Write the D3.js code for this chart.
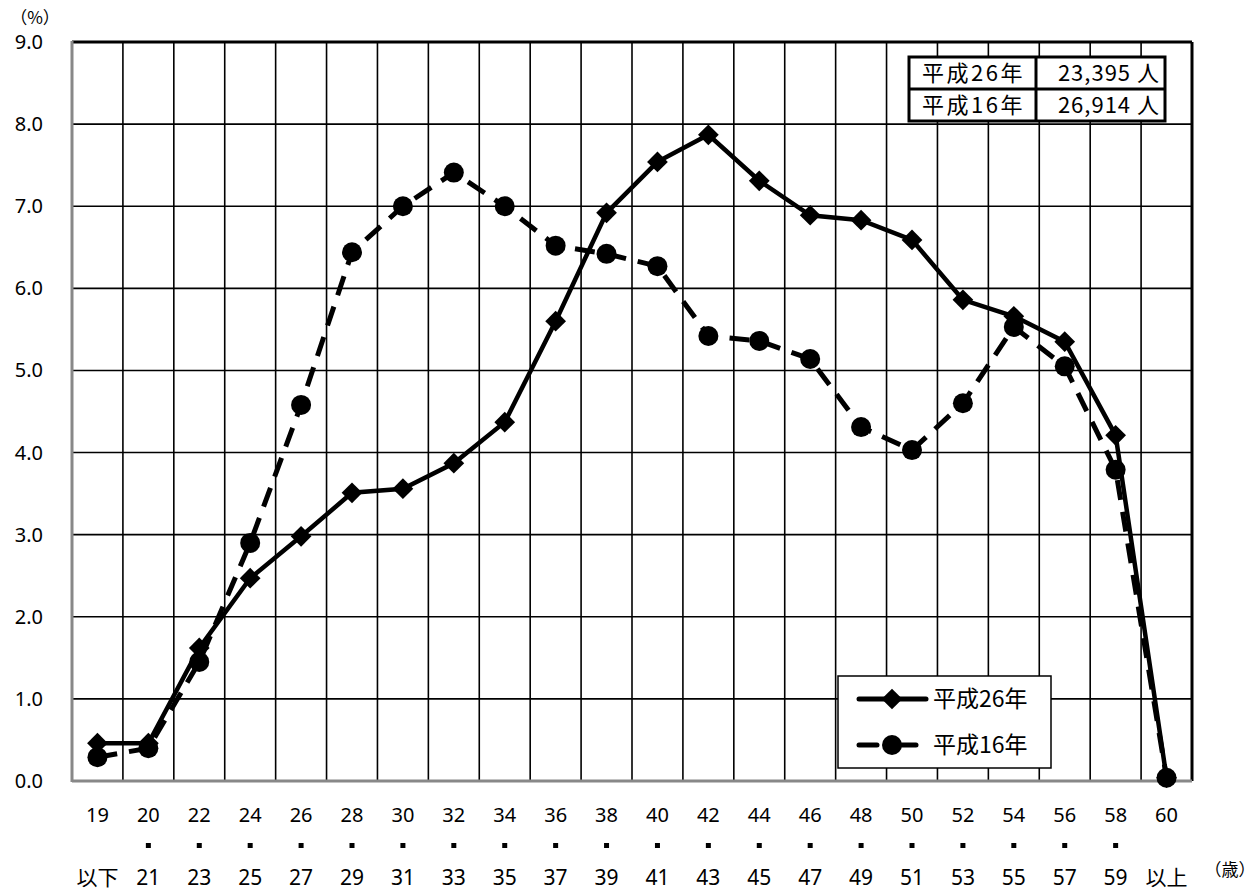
<!DOCTYPE html>
<html><head><meta charset="utf-8">
<script src="https://cdn.jsdelivr.net/npm/d3@7"></script>
<style>body{margin:0;background:#fff;} svg{display:block;}</style>
</head><body><svg id="c" width="1257" height="891"></svg>
<script>
const catTop = ["19","20","22","24","26","28","30","32","34","36","38","40","42","44","46","48","50","52","54","56","58","60"];
const catBottom = ["以下","21","23","25","27","29","31","33","35","37","39","41","43","45","47","49","51","53","55","57","59","以上"];
const h26 = [0.46,0.46,1.62,2.47,2.98,3.51,3.56,3.87,4.37,5.60,6.92,7.54,7.87,7.31,6.89,6.83,6.59,5.86,5.66,5.35,4.21,0.04];
const h16 = [0.29,0.40,1.45,2.90,4.58,6.44,7.00,7.41,7.00,6.52,6.42,6.27,5.42,5.36,5.14,4.31,4.03,4.60,5.53,5.05,3.79,0.04];
const yTicks = [0,1,2,3,4,5,6,7,8,9];
const seriesNames = ["平成26年","平成16年"];
const totals = ["23,395 人","26,914 人"];

const svg = d3.select("#c");
const L=72,R=1192,T=42,B=781;
const x = d3.scaleBand().domain(catTop).range([L,R]);
const y = d3.scaleLinear().domain([0,9]).range([B,T]);
const font = "'Noto Sans','DejaVu Sans',sans-serif";
const cjk = "'Noto Sans CJK JP','Noto Sans',sans-serif";

// grid
const g = svg.append("g");
g.selectAll(".hg").data(yTicks.slice(1,-1)).join("line")
 .attr("x1",L).attr("x2",R).attr("y1",d=>y(d)).attr("y2",d=>y(d))
 .attr("stroke","#000").attr("stroke-width",1.6);
g.selectAll(".vg").data(catTop.slice(1)).join("line")
 .attr("x1",d=>x(d)).attr("x2",d=>x(d)).attr("y1",T).attr("y2",B)
 .attr("stroke","#000").attr("stroke-width",1.6);
// borders
g.append("line").attr("x1",L).attr("x2",R).attr("y1",T).attr("y2",T).attr("stroke","#000").attr("stroke-width",3);
g.append("line").attr("x1",R).attr("x2",R).attr("y1",T).attr("y2",B).attr("stroke","#000").attr("stroke-width",3);
g.append("line").attr("x1",L).attr("x2",L).attr("y1",T-1).attr("y2",B+1).attr("stroke","#888").attr("stroke-width",3);
g.append("line").attr("x1",L).attr("x2",R).attr("y1",B).attr("y2",B).attr("stroke","#888").attr("stroke-width",3);

// y axis labels
svg.append("g").selectAll("text").data(yTicks).join("text")
 .attr("x",43).attr("y",d=>y(d)+7).attr("text-anchor","end")
 .attr("font-family",font).attr("font-size",20).text(d=>d.toFixed(1));
svg.append("text").attr("x",35).attr("y",24).attr("text-anchor","middle").attr("font-family",cjk).attr("font-size",17).text("（%）");

// x labels
const cx = d=>x(d)+x.bandwidth()/2;
svg.append("g").selectAll("text").data(catTop).join("text")
 .attr("x",d=>cx(d)).attr("y",822).attr("text-anchor","middle")
 .attr("font-family",font).attr("font-size",20).text(d=>d);
svg.append("g").selectAll("rect").data(catTop.slice(1,-1)).join("rect")
 .attr("x",d=>cx(d)-2.5).attr("y",843).attr("width",5).attr("height",5).attr("fill","#000");
svg.append("g").selectAll("text").data(catBottom).join("text")
 .attr("x",(d,i)=>cx(catTop[i])).attr("y",885).attr("text-anchor","middle")
 .attr("font-family",(d,i)=>(i===0||i===catBottom.length-1)?cjk:font).attr("font-size",21).text(d=>d);
svg.append("text").attr("x",1230).attr("y",876).attr("text-anchor","middle").attr("font-family",cjk).attr("font-size",17).text("（歳）");

// lines
const line = d3.line().x((d,i)=>cx(catTop[i])).y(d=>y(d));
svg.append("path").datum(h16).attr("d",line).attr("fill","none").attr("stroke","#000")
 .attr("stroke-width",5).attr("stroke-dasharray","20,12");
svg.append("path").datum(h26).attr("d",line).attr("fill","none").attr("stroke","#000")
 .attr("stroke-width",4.5);
const diamond = d3.symbol().type(d3.symbolSquare).size(215);
svg.append("g").selectAll("path").data(h26).join("path")
 .attr("d",diamond()).attr("transform",(d,i)=>`translate(${cx(catTop[i])},${y(d)}) rotate(45)`).attr("fill","#000");
svg.append("g").selectAll("circle").data(h16).join("circle")
 .attr("cx",(d,i)=>cx(catTop[i])).attr("cy",d=>y(d)).attr("r",10).attr("fill","#000");

// table
const tb = svg.append("g");
const tx=909, ty=57, tw=256, rh=32, div=1036;
tb.append("rect").attr("x",tx).attr("y",ty).attr("width",tw).attr("height",rh*2).attr("fill","#fff").attr("stroke","#000").attr("stroke-width",3);
tb.append("line").attr("x1",tx).attr("x2",tx+tw).attr("y1",ty+rh).attr("y2",ty+rh).attr("stroke","#000").attr("stroke-width",3);
tb.append("line").attr("x1",div).attr("x2",div).attr("y1",ty).attr("y2",ty+rh*2).attr("stroke","#000").attr("stroke-width",3);
seriesNames.forEach((s,i)=>{
  tb.append("text").attr("x",(tx+div)/2+1).attr("y",ty+rh*i+24).attr("text-anchor","middle").attr("font-family",cjk).attr("font-size",22).attr("letter-spacing",2.5).text(s);
  tb.append("text").attr("x",tx+tw-5).attr("y",ty+rh*i+24).attr("text-anchor","end").attr("font-family",cjk).attr("font-size",22).attr("letter-spacing",1).text(totals[i]);
});

// legend
const lg = svg.append("g");
lg.append("rect").attr("x",838).attr("y",676).attr("width",213).attr("height",92).attr("fill","#fff").attr("stroke","#000").attr("stroke-width",1.5);
lg.append("line").attr("x1",859).attr("x2",926).attr("y1",699).attr("y2",699).attr("stroke","#000").attr("stroke-width",5).attr("stroke-linecap","round");
lg.append("path").attr("d",diamond()).attr("transform","translate(892,699) rotate(45)").attr("fill","#000");
lg.append("line").attr("x1",859).attr("x2",877).attr("y1",745).attr("y2",745).attr("stroke","#000").attr("stroke-width",5).attr("stroke-linecap","round");
lg.append("line").attr("x1",900).attr("x2",916).attr("y1",745).attr("y2",745).attr("stroke","#000").attr("stroke-width",5).attr("stroke-linecap","round");
lg.append("circle").attr("cx",892).attr("cy",745).attr("r",10).attr("fill","#000");
seriesNames.forEach((s,i)=>{
  lg.append("text").attr("x",933).attr("y",707+i*46).attr("font-family",cjk).attr("font-size",23).text(s);
});
</script></body></html>
